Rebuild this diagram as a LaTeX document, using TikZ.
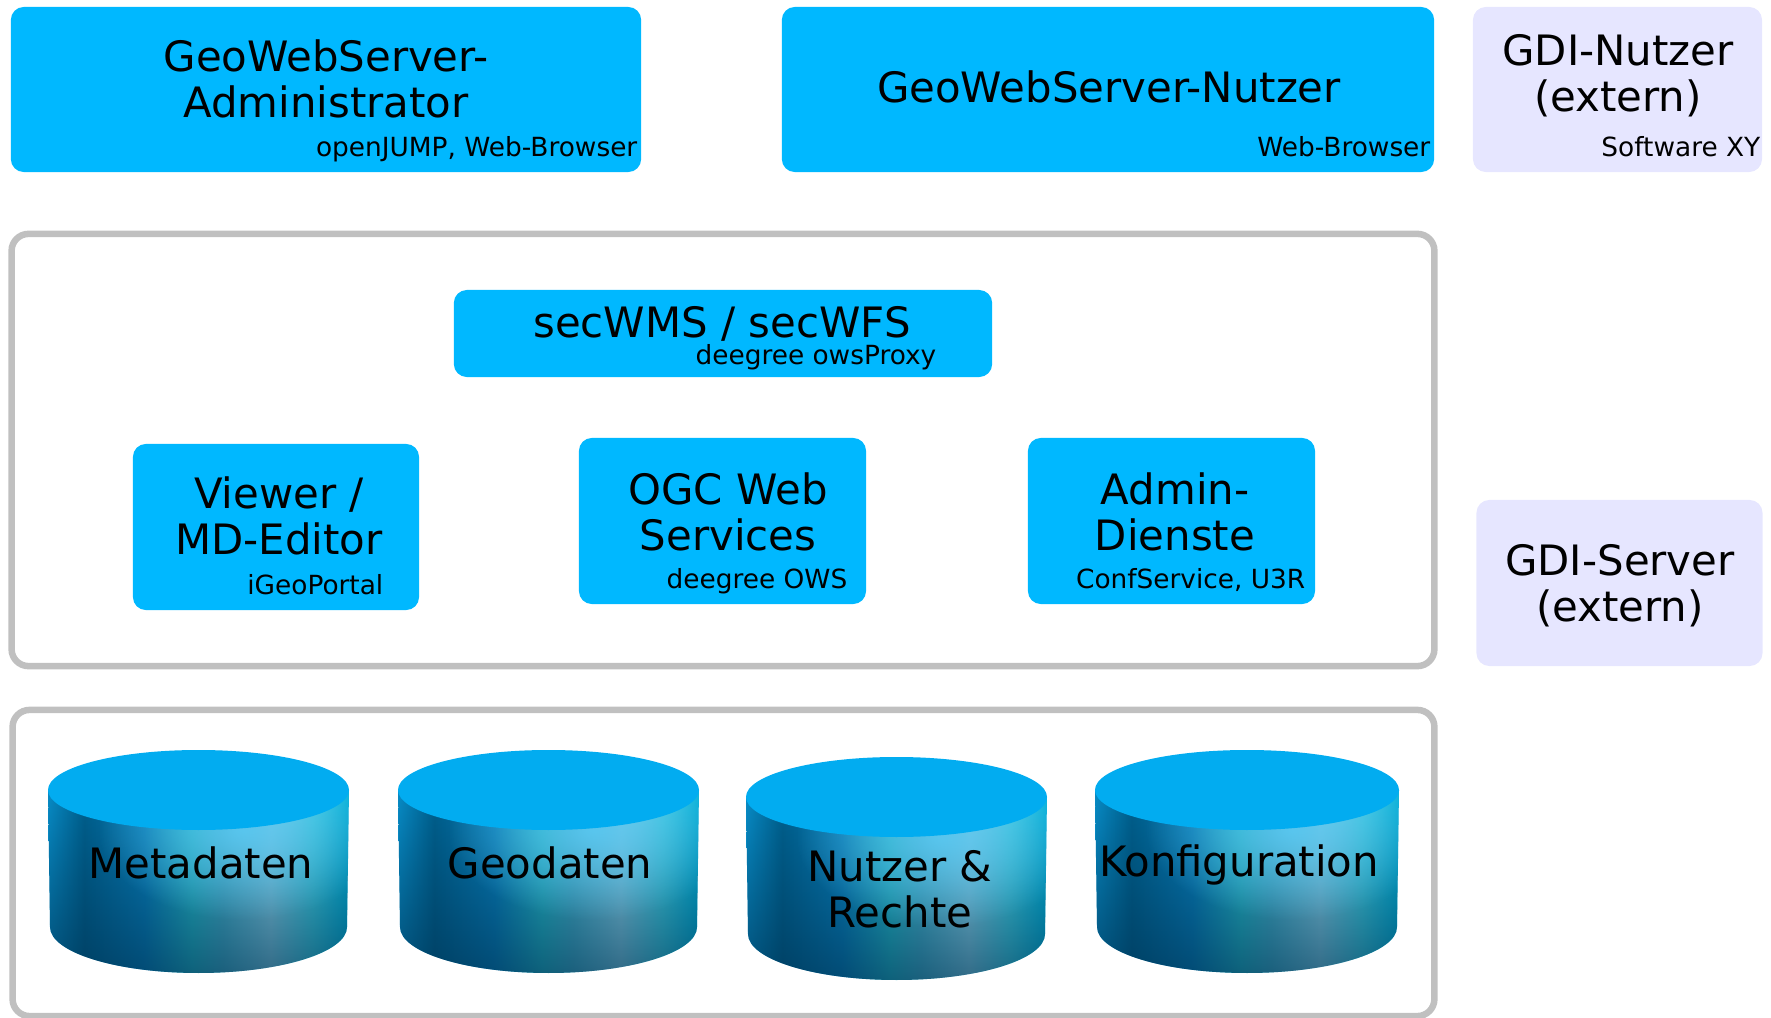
\documentclass[tikz,border=0pt]{standalone}
\usepackage{fontspec}
\setmainfont{DejaVu Sans}
\usetikzlibrary{positioning,fadings}
\definecolor{boxblue}{HTML}{00B8FF}
\definecolor{boxlav}{HTML}{E6E6FF}
\definecolor{framegray}{HTML}{C0C0C0}
\definecolor{cyltop}{HTML}{02ACF0}
\definecolor{cyldeep}{HTML}{00304F}
\pgfdeclarehorizontalshading{cylbody}{100bp}{
  rgb(0bp)=(0.03,0.55,0.78);
  rgb(25bp)=(0.03,0.55,0.78);
  rgb(31bp)=(0.00,0.38,0.56);
  rgb(41bp)=(0.03,0.50,0.74);
  rgb(49bp)=(0.16,0.74,0.80);
  rgb(54bp)=(0.30,0.72,0.82);
  rgb(62bp)=(0.55,0.84,0.93);
  rgb(69bp)=(0.25,0.82,0.90);
  rgb(75bp)=(0.00,0.70,0.86);
  rgb(100bp)=(0.00,0.70,0.86)}
\tikzfading[name=cyldark, top color=transparent!100, middle color=transparent!90, bottom color=transparent!35]
\tikzfading[name=cylglow, inner color=transparent!15, outer color=transparent!100]
\tikzset{
  bluebox/.style={fill=boxblue, rounded corners=0.13cm, inner sep=0pt},
  lavbox/.style={fill=boxlav, rounded corners=0.13cm, inner sep=0pt},
  frame/.style={draw=framegray, line width=0.065cm, rounded corners=0.17cm},
  maintext/.style={align=center, font=\fontsize{11.9}{13.1}\selectfont, inner sep=0pt},
  smalltext/.style={anchor=east, font=\fontsize{7.5}{9}\selectfont, inner sep=0pt},
  cylshape/.style={insert path={(0,40) -- (2,177) arc[start angle=180, end angle=0, x radius=148.5, y radius=46] -- (301,40) -- cycle}},
}

\begin{document}
\begin{tikzpicture}[x=0.01cm,y=-0.01cm]
    \useasboundingbox (0,0) rectangle (1771,1018);

    % frames
    \node[frame, minimum width=14.22cm, minimum height=4.32cm] (middle) at (723,450) {};
    \node[frame, minimum width=14.21cm, minimum height=3.06cm] (bottom) at (723.5,863) {};

    % top row
    \node[bluebox, minimum width=6.30cm, minimum height=1.65cm] (admin) at (326,89.5) {};
    \node[bluebox, minimum width=6.52cm, minimum height=1.65cm] (user) at (1108,89.5) {};
    \node[lavbox, minimum width=2.89cm, minimum height=1.65cm] (gdiuser) at (1617.5,89.5) {};
    \node[maintext] (admintext) at (326,79) {GeoWebServer-\\Administrator};
    \node[maintext] (usertext) at (1109,87) {GeoWebServer-Nutzer};
    \node[maintext] (gdiusertext) at (1618,76) {GDI-Nutzer\\(extern)};
    \node[smalltext] (adminsoft) at (638,149) {openJUMP, Web-Browser};
    \node[smalltext] (usersoft) at (1431,147) {Web-Browser};
    \node[smalltext] (gdisoft) at (1761,147) {Software XY};

    % server
    \node[bluebox, minimum width=5.38cm, minimum height=0.87cm] (sec) at (723,333.5) {};
    \node[bluebox, minimum width=2.86cm, minimum height=1.66cm] (viewer) at (276,527) {};
    \node[bluebox, minimum width=2.87cm, minimum height=1.66cm] (ogc) at (722.5,521) {};
    \node[bluebox, minimum width=2.87cm, minimum height=1.66cm] (dienste) at (1171.5,521) {};
    \node[lavbox, minimum width=2.86cm, minimum height=1.66cm] (gdiserver) at (1619.5,583) {};
    \node[maintext] (sectext) at (722,324) {secWMS / secWFS};
    \node[maintext] (viewertext) at (279,516) {Viewer /\\MD-Editor};
    \node[maintext] (ogctext) at (728,512) {OGC Web\\Services};
    \node[maintext] (dienstetext) at (1175,512) {Admin-\\Dienste};
    \node[maintext] (gdiservertext) at (1620,586) {GDI-Server\\(extern)};
    \node[smalltext] (secsoft) at (937,357) {deegree owsProxy};
    \node[smalltext] (viewersoft) at (384,585) {iGeoPortal};
    \node[smalltext] (ogcsoft) at (848,581) {deegree OWS};
    \node[smalltext] (dienstesoft) at (1306,580) {ConfService, U3R};

    % data stores
    \foreach \cx/\cy/\cw in {48/750/1, 398/750/1, 746/757/1, 1095/750/1.01} {
      \begin{scope}[shift={(\cx,\cy)}, xscale=\cw]
        \path[shading=cylbody, cylshape];
        \fill[cyldeep, path fading=cyldark, cylshape];
        \begin{scope}
          \clip[cylshape];
          \fill[cyan!65!white, path fading=cylglow] (50,-10) rectangle (340,170);
        \end{scope}
        \fill[cyltop] (150.5,40) ellipse[x radius=150.5, y radius=40];
      \end{scope}
    }
    \node[maintext] (metatext) at (201,863) {Metadaten};
    \node[maintext] (geotext) at (550,863) {Geodaten};
    \node[maintext] (rechtetext) at (900,889) {Nutzer \&\\Rechte};
    \node[maintext] (konftext) at (1239,865) {Konfiguration};

  \end{tikzpicture}
\end{document}
